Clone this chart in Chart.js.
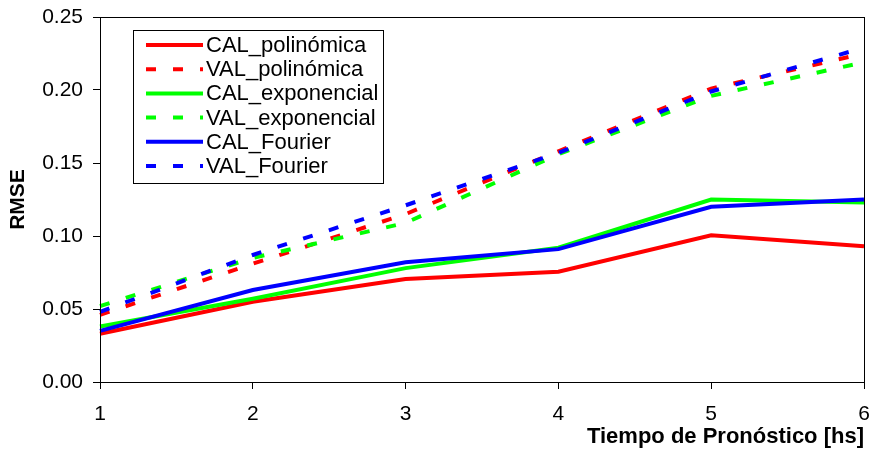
<!DOCTYPE html>
<html>
<head>
<meta charset="utf-8">
<script src="https://cdn.jsdelivr.net/npm/chart.js@4/dist/chart.umd.min.js"></script>
<style>
  html, body { margin: 0; padding: 0; background: #fff; }
  #wrap { width: 873px; height: 461px; }
</style>
</head>
<body>
<div id="wrap"><canvas id="canvas"></canvas></div>
<script>
const horas = ["1", "2", "3", "4", "5", "6"]

const calPolinomica = [0.033, 0.055, 0.0705, 0.0755, 0.1005, 0.093]
const valPolinomica = [0.046, 0.081, 0.115, 0.158, 0.201, 0.225]
const calExponencial = [0.038, 0.057, 0.078, 0.092, 0.125, 0.123]
const valExponencial = [0.052, 0.085, 0.109, 0.156, 0.196, 0.219]
const calFourier = [0.035, 0.063, 0.082, 0.091, 0.120, 0.125]
const valFourier = [0.048, 0.087, 0.121, 0.157, 0.199, 0.229]

const yTicks = [0, 0.05, 0.10, 0.15, 0.20, 0.25]

const FONT = "'Liberation Sans', Arial, sans-serif"
const DASH = [10, 17]

const series = [
  { label: "CAL_polinómica", data: calPolinomica, color: "#ff0000", dashed: false },
  { label: "VAL_polinómica", data: valPolinomica, color: "#ff0000", dashed: true },
  { label: "CAL_exponencial", data: calExponencial, color: "#00ff00", dashed: false },
  { label: "VAL_exponencial", data: valExponencial, color: "#00ff00", dashed: true },
  { label: "CAL_Fourier", data: calFourier, color: "#0000ff", dashed: false },
  { label: "VAL_Fourier", data: valFourier, color: "#0000ff", dashed: true }
]

// boxed legend inside the plot, plus the frame around the plot area
const boxLegend = {
  id: "boxLegend",
  afterDraw(chart) {
    const ctx = chart.ctx
    const area = chart.chartArea

    ctx.save()
    ctx.strokeStyle = "#000"
    ctx.lineWidth = 1
    ctx.strokeRect(area.left + 0.5, area.top + 0.5, area.right - area.left, area.bottom - area.top)

    const x0 = 133, y0 = 30, w = 250, h = 153
    ctx.fillStyle = "#fff"
    ctx.fillRect(x0, y0, w, h)
    ctx.strokeRect(x0 + 0.5, y0 + 0.5, w, h)

    ctx.font = "22px " + FONT
    ctx.textBaseline = "middle"
    ctx.textAlign = "left"
    chart.data.datasets.forEach((ds, i) => {
      const y = 45 + i * 24.2
      ctx.strokeStyle = ds.borderColor
      ctx.lineWidth = 4
      ctx.lineCap = "butt"
      ctx.setLineDash(ds.borderDash || [])
      ctx.beginPath()
      ctx.moveTo(146, y)
      ctx.lineTo(203, y)
      ctx.stroke()
      ctx.setLineDash([])
      ctx.fillStyle = "#000"
      ctx.fillText(ds.label, 206, y + 1)
    })
    ctx.restore()
  }
}

new Chart(document.getElementById("canvas"), {
  type: "line",
  data: {
    labels: horas,
    datasets: series.map((s, i) => ({
      label: s.label,
      data: s.data,
      borderColor: s.color,
      backgroundColor: s.color,
      borderWidth: 4,
      borderDash: s.dashed ? DASH : [],
      borderCapStyle: "butt",
      pointRadius: 0,
      tension: 0,
      fill: false,
      order: series.length - i
    }))
  },
  options: {
    responsive: true,
    maintainAspectRatio: false,
    animation: false,
    devicePixelRatio: 1,
    layout: { padding: { top: 17, right: 9, left: 0, bottom: 0 } },
    plugins: {
      legend: { display: false },
      tooltip: { enabled: false }
    },
    scales: {
      x: {
        offset: false,
        afterFit: scale => {
          scale.height = 79
          scale.paddingLeft = 0
          scale.paddingRight = 0
        },
        grid: { drawOnChartArea: false, drawTicks: true, tickLength: 7, color: "#000" },
        border: { color: "#000", width: 1 },
        ticks: { color: "#000", font: { family: FONT, size: 21 }, padding: 13, maxRotation: 0 },
        title: {
          display: true,
          text: "Tiempo de Pronóstico [hs]",
          align: "end",
          color: "#000",
          font: { family: FONT, size: 22, weight: "bold" },
          padding: { top: 0, bottom: 11 }
        }
      },
      y: {
        min: 0,
        max: 0.25,
        afterFit: scale => {
          scale.width = 100
          scale.paddingTop = 0
          scale.paddingBottom = 0
        },
        afterBuildTicks: scale => { scale.ticks = yTicks.map(v => ({ value: v })) },
        grid: { drawOnChartArea: false, drawTicks: true, tickLength: 7, color: "#000" },
        border: { color: "#000", width: 1 },
        ticks: {
          color: "#000",
          font: { family: FONT, size: 21 },
          padding: 10,
          callback: v => v.toFixed(2)
        },
        title: {
          display: true,
          text: "RMSE",
          color: "#000",
          font: { family: FONT, size: 21, weight: "bold" },
          padding: { top: 6, bottom: 0 }
        }
      }
    }
  },
  plugins: [boxLegend]
})
</script>
</body>
</html>
